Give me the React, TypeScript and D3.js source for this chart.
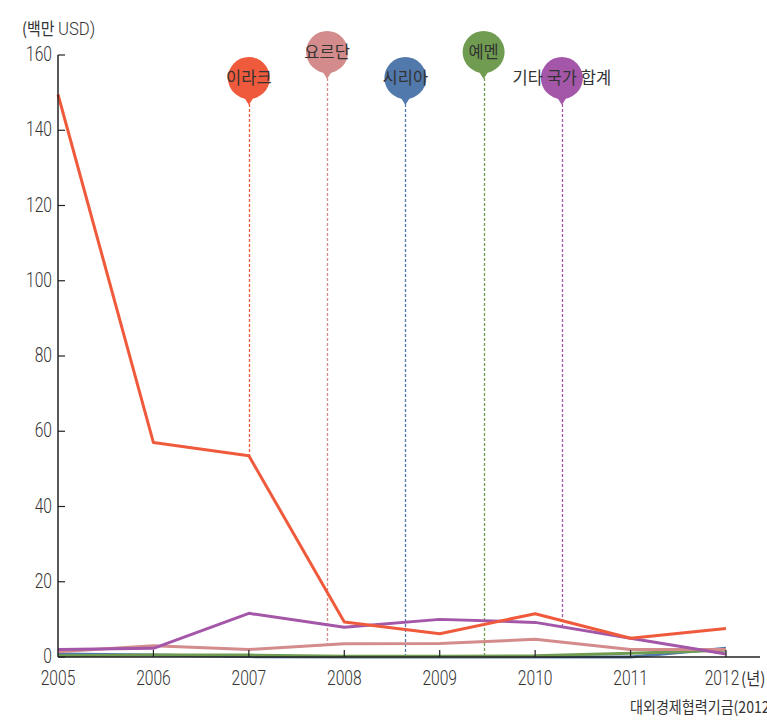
import React from "react";
import { scaleLinear, line } from "d3";

const years = [2005, 2006, 2007, 2008, 2009, 2010, 2011, 2012];
const yTicks = [0, 20, 40, 60, 80, 100, 120, 140, 160];

const iraq = [149.5, 57, 53.5, 9.3, 6.2, 11.5, 5, 7.6];
const jordan = [1.4, 3, 2, 3.5, 3.6, 4.7, 2, 2];
const syria = [0.8, 0.5, 0.1, 0, 0, 0, 0, 2.3];
const yemen = [0.3, 0.5, 0.5, 0.2, 0.2, 0.3, 1, 1.8];
const others = [2, 2.3, 11.6, 7.9, 10, 9.2, 5, 0.8];

const names = ["이라크", "요르단", "시리아", "예멘", "기타 국가 합계"];
const colors = ["#f05a3c", "#d38b8c", "#5279ab", "#6f9c50", "#a457a8"];
const seriesList = [iraq, jordan, syria, yemen, others];
const markerYears = [2007, 2007.82, 2008.64, 2009.46, 2010.28];
const markerRow = [1, 0, 1, 0, 1];
const drawOrder = [2, 3, 1, 4, 0];

const W = 767;
const H = 728;
const numFont = "Roboto, 'DejaVu Sans', sans-serif";
const kr = "'Noto Sans CJK KR', sans-serif";

// narrow text: roboto squeezed horizontally to mimic the condensed face
function NText(props: {
  x: number;
  y: number;
  anchor?: string;
  size?: number;
  font?: string;
  sx?: number;
  weight?: number;
  children: React.ReactNode;
}) {
  const sx = props.sx ?? 0.78;
  return (
    <text
      transform={`translate(${props.x},${props.y}) scale(${sx},1)`}
      textAnchor={props.anchor || "start"}
      fontFamily={props.font || numFont}
      fontSize={props.size || 20}
      fontWeight={props.weight ?? 300}
      fill="#333"
    >
      {props.children}
    </text>
  );
}

export default function App() {
  const x = scaleLinear().domain([2005, 2012]).range([58, 726]);
  const y = scaleLinear().domain([0, 160]).range([657, 55]);
  const path = line<number>()
    .x((_, i) => x(years[i]))
    .y((d) => y(d));

  const pinY = [52, 78];
  const r = 21;

  return (
    <svg
      width={W}
      height={H}
      style={{ position: "absolute", left: 0, top: 0, background: "#fff" }}
    >
      <NText x={22} y={35} font={kr} size={17} sx={0.88} weight={400}>
        (백만 <tspan fontFamily={numFont} fontWeight={300} fontSize={19}>USD)</tspan>
      </NText>

      {/* marker guide lines */}
      {markerYears.map((my, i) => {
        const interp = scaleLinear().domain(years).range(seriesList[i]);
        const cy = pinY[markerRow[i]];
        const gx = Math.round(x(my)) + 0.5;
        return (
          <line
            key={"g" + i}
            x1={gx}
            x2={gx}
            y1={cy + r + 5}
            y2={y(Math.max(0, interp(my)))}
            stroke={colors[i]}
            strokeWidth={1.3}
            strokeDasharray="3,2"
          />
        );
      })}

      {/* series */}
      {drawOrder.map((i) => (
        <path
          key={"s" + i}
          d={path(seriesList[i]) || ""}
          fill="none"
          stroke={colors[i]}
          strokeWidth={3}
          strokeLinejoin="round"
        />
      ))}

      {/* axes */}
      <line x1={58} x2={58} y1={55} y2={657} stroke="#222" strokeWidth={1.5} />
      <line x1={58} x2={760} y1={657} y2={657} stroke="#222" strokeWidth={1.5} />
      {yTicks.map((t) => (
        <g key={"y" + t}>
          <line x1={58} x2={65} y1={y(t)} y2={y(t)} stroke="#222" strokeWidth={1.2} />
          <NText x={52} y={y(t) + 6} anchor="end">
            {t}
          </NText>
        </g>
      ))}
      {years.map((yr) => (
        <g key={"x" + yr}>
          {yr > 2005 && (
            <line x1={x(yr)} x2={x(yr)} y1={657} y2={650} stroke="#222" strokeWidth={1.2} />
          )}
          <NText x={x(yr) - (yr === 2012 ? 4 : 0)} y={685} anchor="middle">
            {yr}
          </NText>
        </g>
      ))}
      <NText x={741} y={685} font={kr} size={17} sx={0.9} weight={400}>
        (년)
      </NText>

      {/* markers */}
      {markerYears.map((my, i) => {
        const cx = x(my);
        const cy = pinY[markerRow[i]];
        const d = `M${cx - 5},${cy + r - 2} L${cx},${cy + r + 6} L${cx + 5},${cy + r - 2} Z`;
        return (
          <g key={"m" + i}>
            <circle cx={cx} cy={cy} r={r} fill={colors[i]} />
            <path d={d} fill={colors[i]} />
            <text
              x={cx}
              y={cy + 6}
              textAnchor="middle"
              fontFamily={kr}
              fontSize={16.5}
              fill="#333"
            >
              {names[i]}
            </text>
          </g>
        );
      })}

      <NText x={630} y={713} font={kr} size={16} sx={0.88} weight={400}>
        대외경제협력기금(2012)
      </NText>
    </svg>
  );
}
